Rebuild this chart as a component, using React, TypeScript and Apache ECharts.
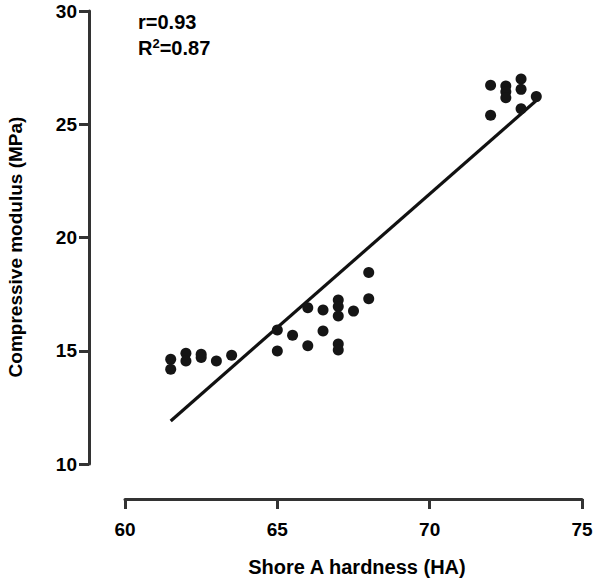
import React, { useEffect, useRef } from "react";
import * as echarts from "echarts";

const hardness = [
  61.5, 61.5, 62.0, 62.0, 62.5, 62.5, 63.0, 63.5,
  65.0, 65.0, 65.5, 66.0, 66.0, 66.5, 66.5,
  67.0, 67.0, 67.0, 67.0, 67.0, 67.5, 68.0, 68.0,
  72.0, 72.0, 72.5, 72.5, 72.5, 73.0, 73.0, 73.0, 73.5,
];
const modulus = [
  14.62, 14.18, 14.89, 14.55, 14.85, 14.7, 14.55, 14.8,
  15.92, 14.99, 15.68, 16.9, 15.22, 16.8, 15.87,
  17.24, 16.95, 16.53, 15.3, 15.03, 16.75, 18.45, 17.3,
  26.72, 25.4, 26.69, 26.44, 26.17, 27.0, 26.54, 25.68, 26.22,
];
const fitX = [61.5, 73.5];
const fitY = [11.9, 26.05];
const xTicks = [60, 65, 70, 75];
const yTicks = [10, 15, 20, 25, 30];
const statLines = ["r=0.93", "R{sup|2}=0.87"];
const xTitle = "Shore A hardness (HA)";
const yTitle = "Compressive modulus (MPa)";

const FONT = "'Liberation Sans', Arial, Helvetica, sans-serif";
const AXIS_COLOR = "#333333";
const TEXT_COLOR = "#000000";

export default function App() {
  const ref = useRef<HTMLDivElement>(null);
  useEffect(() => {
    if (!ref.current) return;
    document.body.style.margin = "0";
    document.documentElement.style.overflow = "hidden";
    const chart = echarts.init(ref.current, undefined, { renderer: "svg" });
    const points = hardness.map((h, i) => [h, modulus[i]]);
    const fit = fitX.map((x, i) => [x, fitY[i]]);
    chart.setOption({
      animation: false,
      backgroundColor: "#ffffff",
      grid: {
        left: 125,
        right: 12,
        top: 11,
        bottom: 115,
        containLabel: false,
        outerBoundsMode: "none",
      },
      xAxis: {
        type: "value",
        min: xTicks[0],
        max: xTicks[xTicks.length - 1],
        interval: 5,
        offset: 35,
        splitLine: { show: false },
        axisLine: { show: true, lineStyle: { color: AXIS_COLOR, width: 3 } },
        axisTick: { show: true, length: 10, lineStyle: { color: AXIS_COLOR, width: 3 } },
        axisLabel: {
          margin: 21,
          color: TEXT_COLOR,
          fontFamily: FONT,
          fontWeight: "bold",
          fontSize: 19,
        },
      },
      yAxis: {
        type: "value",
        min: yTicks[0],
        max: yTicks[yTicks.length - 1],
        interval: 5,
        offset: 36,
        splitLine: { show: false },
        axisLine: { show: true, lineStyle: { color: AXIS_COLOR, width: 3 } },
        axisTick: { show: true, length: 10, lineStyle: { color: AXIS_COLOR, width: 3 } },
        axisLabel: {
          margin: 12,
          color: TEXT_COLOR,
          fontFamily: FONT,
          fontWeight: "bold",
          fontSize: 19,
        },
      },
      graphic: [
        {
          type: "text",
          x: 15,
          y: 247,
          rotation: Math.PI / 2,
          style: {
            text: yTitle,
            fill: TEXT_COLOR,
            font: `bold 19px ${FONT}`,
            align: "center",
            verticalAlign: "middle",
          },
        },
        {
          type: "text",
          x: 357,
          y: 567,
          style: {
            text: xTitle,
            fill: TEXT_COLOR,
            font: `bold 20px ${FONT}`,
            align: "center",
            verticalAlign: "middle",
          },
        },
        {
          type: "text",
          left: 138,
          top: 12,
          style: {
            text: statLines[0],
            fill: TEXT_COLOR,
            font: `bold 20px ${FONT}`,
          },
        },
        {
          type: "text",
          left: 138,
          top: 37,
          style: {
            text: statLines[1],
            fill: TEXT_COLOR,
            font: `bold 20px ${FONT}`,
            rich: {
              sup: { fontSize: 13, fontWeight: "bold", fontFamily: FONT, verticalAlign: "top", padding: [0, 0, 9, 0], fill: TEXT_COLOR },
            },
          },
        },
      ],
      series: [
        {
          type: "line",
          data: fit,
          symbol: "none",
          lineStyle: { color: "#111", width: 3.2 },
          z: 2,
        },
        {
          type: "scatter",
          data: points,
          symbol: "circle",
          symbolSize: 11,
          itemStyle: { color: "#151515", opacity: 1 },
          z: 3,
        },
      ],
    });
    return () => chart.dispose();
  }, []);
  return (
    <div
      ref={ref}
      style={{ position: "fixed", left: 0, top: 0, width: 594, height: 579 }}
    />
  );
}
